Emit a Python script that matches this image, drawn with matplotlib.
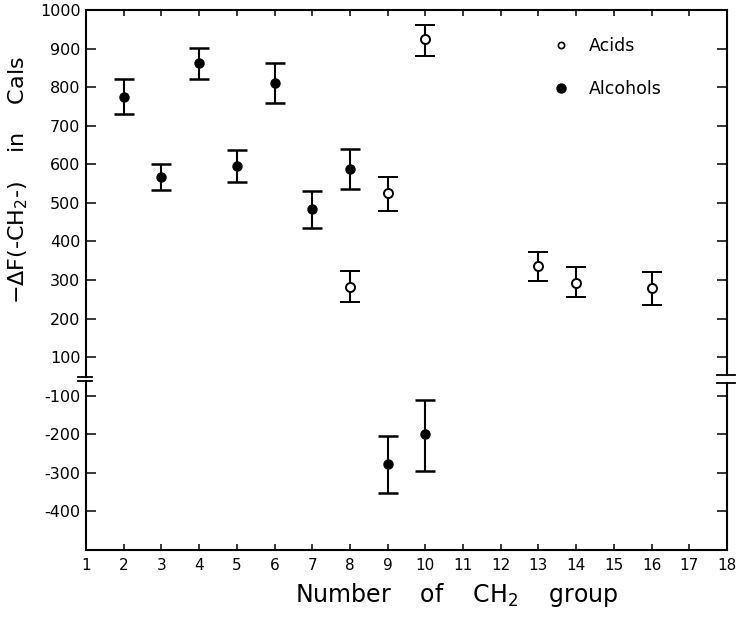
import matplotlib

matplotlib.use("Agg")
import matplotlib.pyplot as plt
import numpy as np
from matplotlib.lines import Line2D

# alcohols (filled)
alc_x = [2, 3, 4, 5, 6, 7, 8, 9, 10]
alc_y = [775, 567, 862, 595, 811, 485, 587, -278, -200]
alc_lo = [45, 34, 40, 42, 52, 50, 52, 73, 96]
alc_hi = [45, 35, 40, 42, 52, 47, 52, 73, 88]

# acids (open)
acid_x = [8, 9, 10, 13, 14, 16]
acid_y = [283, 525, 925, 337, 293, 279]
acid_lo = [40, 45, 45, 40, 38, 45]
acid_hi = [40, 43, 37, 36, 40, 43]

xticks = list(range(1, 19))
yticks = [-400, -300, -200, -100, 100, 200, 300, 400, 500, 600, 700, 800, 900, 1000]


def fwd(y):
    y = np.asarray(y, dtype=float)
    return np.where(y >= 100, y, np.where(y <= -100, y + 100, (y + 100) / 2.0))


def inv(t):
    t = np.asarray(t, dtype=float)
    return np.where(t >= 100, t, np.where(t <= 0, t - 100, 2.0 * t - 100))


fig = plt.figure(figsize=(7.36, 6.22), dpi=100)
ax = fig.add_axes([0.1168, 0.1158, 0.871, 0.868])
ax.set_yscale("function", functions=(fwd, inv))

ekw = dict(fmt="o", color="black", ecolor="black", elinewidth=1.5,
           capsize=7, capthick=1.8, clip_on=False, zorder=3)
ax.errorbar(alc_x, alc_y, yerr=[alc_lo, alc_hi], markersize=6.5, **ekw)
ax.errorbar(acid_x, acid_y, yerr=[acid_lo, acid_hi], markersize=6.5,
            markerfacecolor="white", markeredgewidth=1.4, **ekw)

ax.set_xlim(1, 18)
ax.set_ylim(-500, 1000)
ax.set_xticks(xticks)
ax.set_xticklabels([str(v) for v in xticks], fontsize=11)
ax.set_yticks(yticks)
ax.set_yticklabels([str(v) for v in yticks], fontsize=11.5)
ax.yaxis.set_minor_locator(matplotlib.ticker.NullLocator())

ax.tick_params(axis="x", direction="in", length=4, width=1.1, top=True, pad=6)
ax.tick_params(axis="y", direction="in", length=7, width=1.1, right=True, pad=4)

for side in ("top", "bottom"):
    ax.spines[side].set_linewidth(1.5)
# left/right spines drawn by hand to leave the break gap
ax.spines["left"].set_visible(False)
ax.spines["right"].set_visible(False)
for xa, lo, hi, x0, x1 in ((0.0, 0.313, 0.320, -0.012, 0.009),
                           (1.0, 0.309, 0.324, -0.016, 0.012)):
    ax.plot([xa, xa], [0, lo], transform=ax.transAxes, color="black", lw=1.5, clip_on=False)
    ax.plot([xa, xa], [hi, 1], transform=ax.transAxes, color="black", lw=1.5, clip_on=False)
    for yb in (lo, hi):
        ax.plot([xa + x0, xa + x1], [yb, yb], transform=ax.transAxes,
                color="black", lw=1.3, clip_on=False)

ax.set_xlabel(r"Number    of    CH$_2$    group", fontsize=17, va="top")
ax.xaxis.set_label_coords(0.579, -0.058)
ax.set_ylabel(r"$-\Delta$F(-CH$_2$-)    in    Cals", fontsize=16)
ax.yaxis.set_label_coords(-0.088, 0.685)

handles = [
    Line2D([], [], ls="none", marker="o", markersize=4.5, markerfacecolor="white",
           markeredgecolor="black", markeredgewidth=1.2),
    Line2D([], [], ls="none", marker="o", markersize=6.5, color="black"),
]
ax.legend(handles, ["Acids", "Alcohols"], loc="center left",
          bbox_to_anchor=(0.7, 0.893), frameon=False, fontsize=12.5,
          labelspacing=1.45, handletextpad=1.0, handlelength=1.2)

fig.savefig("out.png", dpi=100)
